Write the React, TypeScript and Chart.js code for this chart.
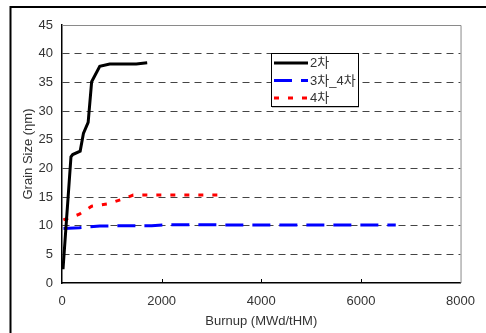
import React, { useEffect, useRef } from "react";
import { Chart, registerables } from "chart.js";

Chart.register(...registerables);

const s2X = [20, 180, 215, 365, 430, 525, 595, 758, 958, 1490, 1710];
const s2Y = [2.4, 22.0, 22.4, 23.0, 26.1, 28.0, 35.1, 37.8, 38.2, 38.2, 38.4];
const s34X = [30, 350, 760, 1800, 2050, 6700];
const s34Y = [9.5, 9.65, 9.95, 10.0, 10.15, 10.1];
const s4X = [28, 350, 595, 905, 1210, 1430, 3300];
const s4Y = [11.0, 12.0, 13.4, 13.8, 14.6, 15.35, 15.35];
const seriesNames = ["2차", "3차_4차", "4차"];
const xTicks = [0, 2000, 4000, 6000, 8000];
const yMax = 45;
const xTitle = "Burnup (MWd/tHM)";
const yTitle = "Grain Size (ηm)";

const FONT = "'Liberation Sans', Arial, 'Noto Sans CJK KR', sans-serif";

function pts(xs: number[], ys: number[]) {
  return xs.map((x, i) => ({ x, y: ys[i] }));
}

const extras = {
  id: "extras",
  beforeDraw(chart: any) {
    const ctx = chart.ctx;
    ctx.save();
    ctx.strokeStyle = "#000";
    ctx.lineWidth = 2;
    ctx.beginPath();
    ctx.moveTo(10.5, 333);
    ctx.lineTo(10.5, 7);
    ctx.lineTo(486, 7);
    ctx.stroke();
    ctx.restore();
  },
  afterDraw(chart: any) {
    const ctx = chart.ctx;
    const a = chart.chartArea;
    const xs = chart.scales.x;
    ctx.save();
    // top & right border
    ctx.strokeStyle = "#8a8a8a";
    ctx.lineWidth = 1;
    ctx.beginPath();
    ctx.moveTo(a.left, a.top + 0.5);
    ctx.lineTo(a.right + 0.5, a.top + 0.5);
    ctx.lineTo(a.right + 0.5, a.bottom);
    ctx.stroke();
    // inside x ticks
    ctx.strokeStyle = "#000";
    ctx.beginPath();
    xTicks.slice(1, -1).forEach((v) => {
      const px = Math.round(xs.getPixelForValue(v)) + 0.5;
      ctx.moveTo(px, a.bottom);
      ctx.lineTo(px, a.bottom - 4);
    });
    ctx.stroke();
    // legend
    const lx = 271, ly = 53, lw = 87, lh = 53;
    ctx.fillStyle = "#fff";
    ctx.fillRect(lx, ly, lw, lh);
    ctx.strokeStyle = "#888";
    ctx.lineWidth = 1;
    ctx.beginPath();
    ctx.moveTo(lx + 1, ly + lh + 1);
    ctx.lineTo(lx + lw + 1, ly + lh + 1);
    ctx.stroke();
    ctx.strokeStyle = "#000";
    ctx.strokeRect(lx + 0.5, ly + 0.5, lw, lh);
    const rows = [63, 80.5, 98];
    chart.data.datasets.forEach((ds: any, i: number) => {
      const y = rows[i];
      ctx.strokeStyle = ds.borderColor;
      ctx.lineWidth = ds.borderWidth;
      ctx.setLineDash(ds.borderDash || []);
      ctx.beginPath();
      ctx.moveTo(274, y);
      ctx.lineTo(308, y);
      ctx.stroke();
      ctx.setLineDash([]);
      ctx.fillStyle = "#333";
      ctx.font = "13px " + FONT;
      ctx.textBaseline = "middle";
      ctx.textAlign = "left";
      ctx.fillText(ds.label, 310, y + 0.5);
    });
    ctx.restore();
  },
};

export default function App() {
  const ref = useRef<HTMLCanvasElement | null>(null);
  useEffect(() => {
    document.body.style.margin = "0";
    const chart = new Chart(ref.current as HTMLCanvasElement, {
      type: "line",
      data: {
        datasets: [
          {
            label: seriesNames[0],
            data: pts(s2X, s2Y),
            borderColor: "#000000",
            borderWidth: 3,
            pointRadius: 0,
            tension: 0,
          },
          {
            label: seriesNames[1],
            data: pts(s34X, s34Y),
            borderColor: "#0000ff",
            borderWidth: 3,
            borderDash: [18, 9],
            pointRadius: 0,
            tension: 0,
          },
          {
            label: seriesNames[2],
            data: pts(s4X, s4Y),
            borderColor: "#ff0000",
            borderWidth: 3,
            borderDash: [5, 9],
            pointRadius: 0,
            tension: 0,
          },
        ],
      },
      options: {
        responsive: false,
        animation: false,
        layout: { padding: { left: 17, top: 25, right: 23, bottom: 0 } },
        plugins: { legend: { display: false }, tooltip: { enabled: false } },
        scales: {
          x: {
            type: "linear",
            min: 0,
            max: 8000,
            afterBuildTicks: (s: any) => {
              s.ticks = xTicks.map((v) => ({ value: v }));
            },
            afterFit: (s: any) => {
              s.height = 50;
            },
            ticks: {
              padding: 11,
              color: "#333",
              font: { family: FONT, size: 13 },
              maxRotation: 0,
              callback: (v: any) => String(v),
            },
            grid: { display: false, drawTicks: false },
            border: { color: "#000", width: 1.5 },
            title: {
              display: true,
              text: xTitle,
              color: "#333",
              font: { family: FONT, size: 13 },
            },
          },
          y: {
            min: 0,
            max: yMax,
            ticks: {
              stepSize: 5,
              padding: 9,
              color: "#333",
              font: { family: FONT, size: 13 },
              callback: (v: any) => String(v),
            },
            afterFit: (s: any) => {
              s.width = 45;
            },
            grid: {
              drawTicks: false,
              color: (c: any) =>
                c.tick && (c.tick.value === 0 || c.tick.value === yMax)
                  ? "rgba(0,0,0,0)"
                  : "#444",
              lineWidth: 1,
            },
            border: { color: "#000", width: 1.5, dash: [7, 5] },
            title: {
              display: true,
              text: yTitle,
              color: "#333",
              font: { family: FONT, size: 13 },
            },
          },
        },
      },
      plugins: [extras],
    } as any);
    return () => chart.destroy();
  }, []);
  return (
    <div style={{ position: "fixed", left: 0, top: 0, width: 486, height: 333 }}>
      <canvas ref={ref} width={486} height={333} />
    </div>
  );
}
